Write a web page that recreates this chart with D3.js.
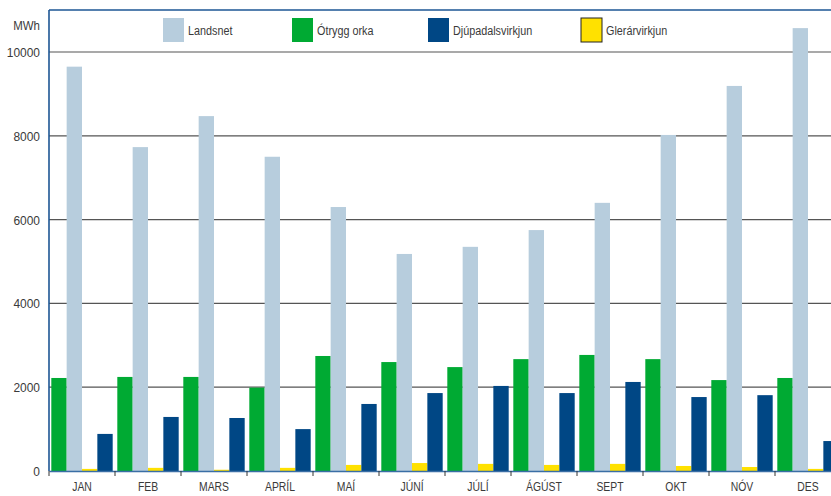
<!DOCTYPE html>
<html>
<head>
<meta charset="utf-8">
<title>MWh eftir mánuðum</title>
<script src="https://d3js.org/d3.v7.min.js"></script>
<style>
  body { margin: 0; background: #fff; }
  svg text { font-family: "Liberation Sans", Arial, sans-serif; fill: #3a3a3a; }
</style>
</head>
<body>
<svg id="chart" width="831" height="496"></svg>
<script>
// months on the x axis
const months = ["JAN", "FEB", "MARS", "APRÍL", "MAÍ", "JÚNÍ", "JÚLÍ", "ÁGÚST", "SEPT", "OKT", "NÓV", "DES"];

// values (MWh)
const landsnet = [9650, 7730, 8470, 7500, 6300, 5180, 5350, 5750, 6400, 8020, 9190, 10570];
const otrygg   = [2220, 2245, 2245, 1990, 2745, 2600, 2480, 2670, 2770, 2670, 2170, 2220];
const djupadal = [885, 1290, 1265, 1000, 1600, 1860, 2030, 1860, 2125, 1765, 1810, 715];
const glerar   = [50, 75, 30, 75, 145, 190, 170, 145, 170, 120, 95, 50];

const yTicks = [0, 2000, 4000, 6000, 8000, 10000];

// legend order vs. bar order inside a month differ
const legendSeries = [
  {name: "Landsnet", color: "#b7cddd"},
  {name: "Ótrygg orka", color: "#00aa33"},
  {name: "Djúpadalsvirkjun", color: "#004785"},
  {name: "Glerárvirkjun", color: "#ffe100", stroke: "#222"}
];
const barSeries = [
  {name: "Ótrygg orka", values: otrygg, color: "#00aa33"},
  {name: "Landsnet", values: landsnet, color: "#b7cddd"},
  {name: "Glerárvirkjun", values: glerar, color: "#ffe100"},
  {name: "Djúpadalsvirkjun", values: djupadal, color: "#004785"}
];

const svg = d3.select("#chart");
const plotLeft = 49, plotTop = 10, plotBottom = 471;
const plotRight = 841; // plot goes past the window edge
const narrow = "scale(0.8,1)"; // the original font is a condensed one

const x = d3.scaleBand().domain(months).range([plotLeft, plotRight]).paddingInner(0.07).paddingOuter(0.035);
const xs = d3.scaleBand().domain(barSeries.map(d => d.name)).range([0, x.bandwidth()]);
const y = d3.scaleLinear().domain([0, 10000]).range([plotBottom, 52]);

// gridlines
svg.append("g")
  .selectAll("line")
  .data(yTicks.filter(d => d > 0))
  .join("line")
    .attr("x1", plotLeft).attr("x2", 831)
    .attr("y1", d => y(d)).attr("y2", d => y(d))
    .attr("stroke", "#555").attr("stroke-width", 1.2);

// y labels
svg.append("g")
  .selectAll("text")
  .data(yTicks)
  .join("text")
    .attr("transform", d => `translate(40,${y(d) + 5}) scale(0.92,1)`)
    .attr("text-anchor", "end")
    .style("font-size", "13px")
    .text(d => d);

svg.append("text").attr("transform", "translate(40,30) scale(0.85,1)").attr("text-anchor", "end")
  .style("font-size", "13.5px").text("MWh");

// bars
const groups = svg.append("g")
  .selectAll("g")
  .data(months)
  .join("g")
    .attr("transform", d => `translate(${x(d)},0)`);

groups.selectAll("rect")
  .data((m, i) => barSeries.map(s => ({name: s.name, color: s.color, v: s.values[i]})))
  .join("rect")
    .attr("x", d => xs(d.name))
    .attr("width", xs.bandwidth())
    .attr("y", d => y(d.v))
    .attr("height", d => plotBottom - y(d.v))
    .attr("fill", d => d.color);

// frame: top and left borders, bottom axis
svg.append("line").attr("x1", plotLeft).attr("x2", 831).attr("y1", plotTop).attr("y2", plotTop)
  .attr("stroke", "#1d5694").attr("stroke-width", 1.6);
svg.append("line").attr("x1", plotLeft).attr("x2", plotLeft).attr("y1", plotTop).attr("y2", plotBottom)
  .attr("stroke", "#1d5694").attr("stroke-width", 1.6);

const xAxis = svg.append("g")
  .attr("transform", `translate(0,${plotBottom})`)
  .call(d3.axisBottom(x).tickSize(0).tickPadding(11));
xAxis.select(".domain").attr("stroke", "#3a6ea5").attr("stroke-width", 1.6);
xAxis.selectAll("text")
  .attr("transform", narrow)
  .attr("fill", "#3a3a3a")
  .style("font-size", "13px")
  .style("font-family", "'Liberation Sans', Arial, sans-serif");

// tick marks between months
const step = x.step();
svg.append("g")
  .selectAll("line")
  .data(d3.range(13))
  .join("line")
    .attr("x1", d => plotLeft + d * step).attr("x2", d => plotLeft + d * step)
    .attr("y1", plotBottom).attr("y2", plotBottom + 5)
    .attr("stroke", "#333").attr("stroke-width", 1);

// legend
const legX = [163, 292, 428, 581];
const leg = svg.append("g")
  .selectAll("g")
  .data(legendSeries)
  .join("g")
    .attr("transform", (d, i) => `translate(${legX[i]},18)`);
leg.append("rect")
  .attr("width", 21).attr("height", 24)
  .attr("fill", d => d.color)
  .attr("stroke", d => d.stroke || "none")
  .attr("stroke-width", 1);
leg.append("text")
  .attr("transform", "translate(25,16.5) " + narrow)
  .style("font-size", "13.5px")
  .text(d => d.name);
</script>
</body>
</html>
